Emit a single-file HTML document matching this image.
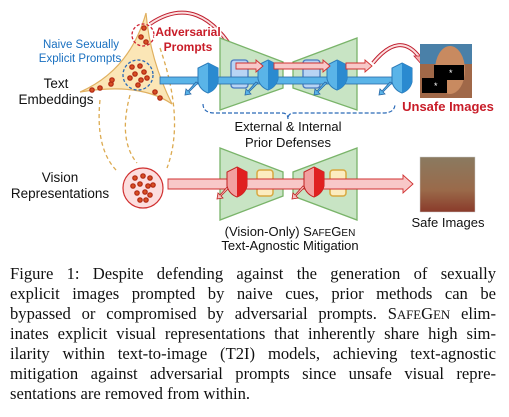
<!DOCTYPE html>
<html><head><meta charset="utf-8"><style>
body{margin:0;width:509px;height:417px;background:#fff;position:relative;overflow:hidden}
svg{position:absolute;left:0;top:0}
.cap{position:absolute;left:10px;width:486px;font-family:"Liberation Serif",serif;font-size:16.6px;line-height:20px;text-align:justify;text-align-last:justify;color:#111;white-space:nowrap}
.sc{font-size:12.8px}
</style></head><body>
<svg width="509" height="260" viewBox="0 0 509 260" font-family="Liberation Sans, sans-serif">
<defs>
<radialGradient id="dot"><stop offset="0" stop-color="#e8602a"/><stop offset="1" stop-color="#a82010"/></radialGradient>
<linearGradient id="safe" x1="0" y1="0" x2="0" y2="1"><stop offset="0" stop-color="#8a7a60"/><stop offset="0.6" stop-color="#9a6a4a"/><stop offset="1" stop-color="#8a3a2a"/></linearGradient>
<g id="bshield"><path d="M0,-15 L10,-10 L10,4 Q8,12 0,15 Q-8,12 -10,4 L-10,-10z" fill="#5ab4e8" stroke="#2a7ab8" stroke-width="1"/><path d="M0,-15 L10,-10 L10,4 Q8,12 0,15z" fill="#2a8ad0"/></g>
<g id="rshield"><path d="M0,-15 L10,-10 L10,4 Q8,12 0,15 Q-8,12 -10,4 L-10,-10z" fill="#f2a0a0" stroke="#c02020" stroke-width="1"/><path d="M0,-15 L10,-10 L10,4 Q8,12 0,15z" fill="#e02020"/></g>
<g id="bdown"><path d="M0,0 L-9,9 L-7,11 L-13,12 L-12,6 L-10,8 L-2,-1z" fill="#5ab4e8" stroke="#2a6aa8" stroke-width="0.8"/></g>
<g id="rdown"><path d="M0,0 L-9,9 L-7,11 L-13,12 L-12,6 L-10,8 L-2,-1z" fill="#f6c0c0" stroke="#c02020" stroke-width="0.8"/></g>
</defs>
<path d="M146,13 Q150,60 172,104 Q140,82 80,92 Q130,70 146,13z" fill="#fbe6b6" stroke="#e0b060" stroke-width="1.2"/>
<circle cx="143" cy="35" r="11" fill="none" stroke="#d02030" stroke-width="1.3" stroke-dasharray="3,2"/>
<circle cx="138" cy="75" r="15" fill="none" stroke="#2a6ab8" stroke-width="1.3" stroke-dasharray="3,2"/>
<g fill="url(#dot)">
<circle cx="144" cy="28" r="2.8"/><circle cx="141" cy="37" r="2.8"/><circle cx="146" cy="42" r="2.8"/>
<circle cx="132" cy="67" r="2.8"/><circle cx="140" cy="66" r="2.8"/><circle cx="144" cy="72" r="2.8"/><circle cx="135" cy="74" r="2.8"/><circle cx="130" cy="78" r="2.8"/><circle cx="141" cy="80" r="2.8"/><circle cx="147" cy="78" r="2.8"/><circle cx="138" cy="85" r="2.8"/>
<circle cx="92" cy="90" r="2.8"/><circle cx="100" cy="88" r="2.8"/><circle cx="111" cy="84" r="2.8"/><circle cx="112" cy="80" r="2.8"/>
<circle cx="155" cy="92" r="2.8"/><circle cx="160" cy="98" r="2.8"/>
</g>
<g fill="none" stroke="#dcaa50" stroke-width="1.3" stroke-dasharray="4,3">
<path d="M100,100 Q95,150 118,172"/><path d="M130,95 Q118,140 137,163"/><path d="M160,48 Q185,120 167,168"/>
</g>
<circle cx="143" cy="188" r="20" fill="#fcdede" stroke="#d03030" stroke-width="1.2"/>
<g fill="url(#dot)">
<circle cx="135" cy="178" r="2.8"/><circle cx="143" cy="176" r="2.8"/><circle cx="150" cy="178" r="2.8"/><circle cx="133" cy="186" r="2.8"/><circle cx="140" cy="184" r="2.8"/><circle cx="148" cy="186" r="2.8"/><circle cx="153" cy="185" r="2.8"/><circle cx="137" cy="193" r="2.8"/><circle cx="145" cy="192" r="2.8"/><circle cx="150" cy="195" r="2.8"/><circle cx="140" cy="200" r="2.8"/><circle cx="146" cy="200" r="2.8"/>
</g>
<g font-size="11.5" fill="#1a70c0" text-anchor="middle"><text x="81" y="48">Naive Sexually</text><text x="80" y="62">Explicit Prompts</text></g>
<g font-size="13.5" fill="#111" text-anchor="middle"><text x="56" y="88">Text</text><text x="56" y="104">Embeddings</text><text x="60" y="182">Vision</text><text x="60" y="198">Representations</text></g>
<path d="M150,24 Q200,-10 238,58" fill="none" stroke="#c02030" stroke-width="4"/>
<path d="M150,24 Q200,-10 238,58" fill="none" stroke="#fbe0e0" stroke-width="2"/>
<path d="M232,56 L245,56 L240,66z" fill="#f4b0b0" stroke="#c02030" stroke-width="0.8"/>
<g font-size="12" font-weight="bold" fill="#c81c28" text-anchor="middle" stroke="#fff" stroke-width="3" paint-order="stroke"><text x="188" y="36">Adversarial</text><text x="188" y="51">Prompts</text></g>
<g fill="#c8e4c4" stroke="#7ab46a" stroke-width="1.3">
<path d="M220,38 L283,62 L283,88 L220,110z"/><path d="M357,38 L293,62 L293,88 L357,110z"/>
<path d="M220,148 L283,172 L283,196 L220,220z"/><path d="M357,148 L293,172 L293,196 L357,220z"/>
</g>
<g fill="#b8d4f4" stroke="#4a7ac0" stroke-width="1.3"><rect x="231" y="60" width="17" height="28" rx="3"/><rect x="303" y="60" width="17" height="28" rx="3"/></g>
<g fill="#fcecc0" stroke="#d8a840" stroke-width="1.5"><rect x="257" y="170" width="16" height="26" rx="3"/><rect x="330" y="170" width="16" height="26" rx="3"/></g>
<rect x="160" y="77" width="240" height="7" fill="#5ab4e8" stroke="#2a6aa8" stroke-width="0.8"/>
<use href="#bdown" x="198" y="83"/><use href="#bdown" x="258" y="83"/><use href="#bdown" x="327" y="83"/><use href="#bdown" x="392" y="83"/>
<use href="#bshield" x="208" y="78"/><use href="#bshield" x="268" y="75"/><use href="#bshield" x="337" y="75"/><use href="#bshield" x="402" y="78"/>
<g fill="#f8c8c8" stroke="#d03030" stroke-width="0.9">
<path d="M236,63 L256,63 L256,60 L263,66 L256,72 L256,69 L236,69z"/>
<path d="M274,63 L323,63 L323,60 L330,66 L323,72 L323,69 L274,69z"/>
<path d="M346,63 L365,63 L365,60 L372,66 L365,72 L365,69 L346,69z"/>
</g>
<path d="M373,63 Q400,30 420,58" fill="none" stroke="#c02030" stroke-width="4"/>
<path d="M373,63 Q400,30 420,58" fill="none" stroke="#fbe0e0" stroke-width="2"/>
<path d="M414,56 L427,56 L423,66z" fill="#f4b0b0" stroke="#c02030" stroke-width="0.8"/>
<rect x="420" y="44" width="52" height="54" fill="#a06848"/>
<rect x="420" y="44" width="52" height="20" fill="#4a80a8"/>
<ellipse cx="450" cy="70" rx="15" ry="24" fill="#c88a60"/>
<rect x="434" y="65" width="30" height="15" fill="#000"/><rect x="422" y="78" width="25" height="15" fill="#000"/>
<text x="449" y="76" fill="#fff" font-size="9">*</text><text x="434" y="89" fill="#fff" font-size="9">*</text>
<text x="448" y="111" font-size="13" font-weight="bold" fill="#c81c28" text-anchor="middle">Unsafe Images</text>
<path d="M203,104 Q203,113 215,113 L282,113 Q288,113 288,119 Q288,113 294,113 L383,113 Q395,113 395,104" fill="none" stroke="#2a6ab8" stroke-width="1.2" stroke-dasharray="4,2"/>
<g font-size="13" fill="#111" text-anchor="middle"><text x="288" y="131">External &amp; Internal</text><text x="288" y="147">Prior Defenses</text>
<text x="290" y="236">(Vision-Only) S<tspan font-size="10">AFE</tspan>G<tspan font-size="10">EN</tspan></text><text x="290" y="250">Text-Agnostic Mitigation</text>
<text x="448" y="227">Safe Images</text></g>
<path d="M168,179 L403,179 L403,175 L413,184 L403,193 L403,189 L168,189z" fill="#f8c8c8" stroke="#d03030" stroke-width="0.9"/>
<use href="#rdown" x="230" y="187"/><use href="#rdown" x="305" y="187"/>
<use href="#rshield" x="237" y="182"/><use href="#rshield" x="314" y="182"/>
<rect x="420" y="157" width="55" height="55" fill="url(#safe)" stroke="#ccc" stroke-width="0.5"/>
</svg>
<div class="cap" style="top:264px">Figure 1: Despite defending against the generation of sexually</div>
<div class="cap" style="top:284px">explicit images prompted by naive cues, prior methods can be</div>
<div class="cap" style="top:304px">bypassed or compromised by adversarial prompts. S<span class="sc">AFE</span>G<span class="sc">EN</span> elim-</div>
<div class="cap" style="top:324px">inates explicit visual representations that inherently share high sim-</div>
<div class="cap" style="top:344px">ilarity within text-to-image (T2I) models, achieving text-agnostic</div>
<div class="cap" style="top:364px">mitigation against adversarial prompts since unsafe visual repre-</div>
<div class="cap" style="top:384px;text-align-last:left">sentations are removed from within.</div>
</body></html>
